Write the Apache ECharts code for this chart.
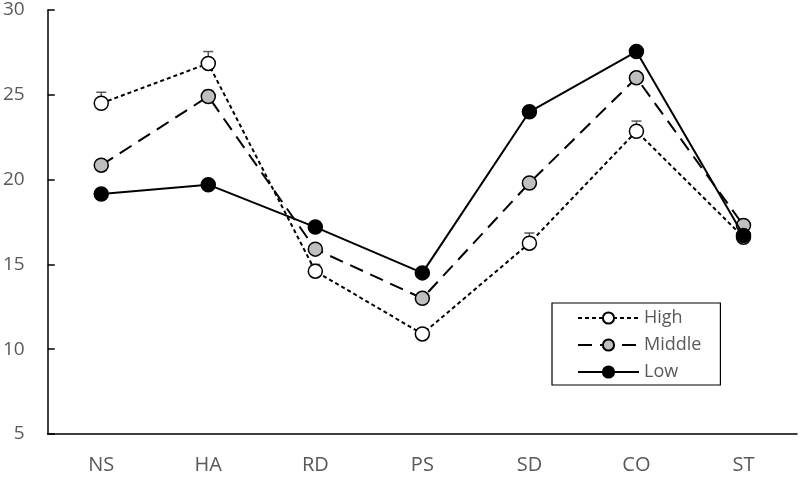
<!DOCTYPE html>
<html>
<head>
<meta charset="utf-8">
<script src="https://cdn.jsdelivr.net/npm/echarts@6/dist/echarts.min.js"></script>
<style>
  html, body { margin: 0; padding: 0; background: #fff; }
  #chart { width: 800px; height: 477px; }
</style>
</head>
<body>
<div id="chart"></div>
<script>
const categories = ['NS', 'HA', 'RD', 'PS', 'SD', 'CO', 'ST']
const highValues = [24.5, 26.85, 14.6, 10.9, 16.25, 22.85, 16.6]
const highErrors = [0.65, 0.7, 0.4, 0.2, 0.6, 0.6, 0.3]
const middleValues = [20.85, 24.9, 15.9, 13.0, 19.8, 26.0, 17.3]
const middleErrors = [0.3, 0.35, 0.2, 0.2, 0.25, 0.3, 0.3]
const lowValues = [19.15, 19.7, 17.2, 14.5, 24.0, 27.55, 16.7]
const yTicks = [5, 10, 15, 20, 25, 30]

const chart = echarts.init(document.getElementById('chart'))

// upward error bar with a small cap
const errorSeries = (vals, errs) => ({
  type: 'custom',
  z: 1,
  silent: true,
  data: vals.map((v, i) => [i, v, v + errs[i]]),
  renderItem: (params, api) => {
    const base = api.coord([api.value(0), api.value(1)])
    const top = api.coord([api.value(0), api.value(2)])
    const style = { stroke: '#595959', lineWidth: 1.5 }
    return {
      type: 'group',
      children: [
        { type: 'line', shape: { x1: base[0], y1: base[1], x2: top[0], y2: top[1] }, style },
        { type: 'line', shape: { x1: top[0] - 5, y1: top[1], x2: top[0] + 5, y2: top[1] }, style }
      ]
    }
  }
})

const lineSeries = (name, vals, fill, dash, z) => ({
  name: name,
  type: 'line',
  z: z,
  data: vals,
  symbol: 'circle',
  symbolSize: 14,
  itemStyle: { color: fill, borderColor: '#000', borderWidth: 1.5 },
  lineStyle: { color: '#000', width: 2, type: dash },
  emphasis: { disabled: true }
})

const option = {
  animation: false,
  textStyle: { fontFamily: 'Open Sans' },
  grid: { left: 47, right: 3, top: 10, bottom: 43 },
  legend: {
    orient: 'vertical',
    left: 552,
    top: 303,
    padding: [6, 19, 4, 25],
    itemGap: 9,
    itemWidth: 61,
    itemHeight: 14,
    borderColor: '#000',
    borderWidth: 1.2,
    textStyle: { color: '#595959', fontSize: 18, fontFamily: 'Open Sans' },
    data: ['High', 'Middle', 'Low']
  },
  xAxis: {
    type: 'category',
    data: categories,
    boundaryGap: true,
    axisLine: { lineStyle: { color: '#000', width: 1.5 } },
    axisTick: { inside: true, length: 7, lineStyle: { color: '#000', width: 1.5 } },
    axisLabel: { color: '#595959', fontSize: 20, margin: 21 }
  },
  yAxis: {
    type: 'value',
    min: yTicks[0],
    max: yTicks[yTicks.length - 1],
    interval: 5,
    splitLine: { show: false },
    axisLine: { show: true, lineStyle: { color: '#000', width: 1.5 } },
    axisTick: { show: true, inside: true, length: 7, lineStyle: { color: '#000', width: 1.5 } },
    axisLabel: { color: '#595959', fontSize: 19, margin: 23 }
  },
  series: [
    errorSeries(highValues, highErrors),
    errorSeries(middleValues, middleErrors),
    lineSeries('High', highValues, '#fff', [4, 3], 3),
    lineSeries('Middle', middleValues, '#bfbfbf', [14, 8], 3),
    lineSeries('Low', lowValues, '#000', 'solid', 4)
  ]
}

chart.setOption(option)
</script>
</body>
</html>
